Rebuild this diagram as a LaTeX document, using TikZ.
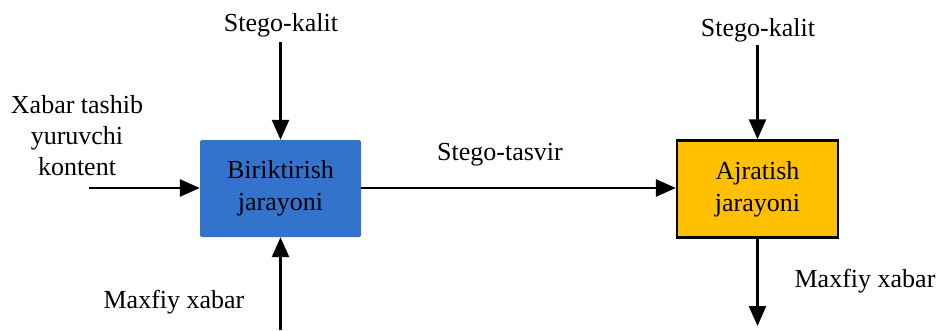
\documentclass[tikz,border=0pt]{standalone}
\usepackage{fontspec}
\setmainfont{Liberation Serif}
\usetikzlibrary{arrows.meta}
\definecolor{bluebox}{HTML}{3473CC}
\definecolor{yellowbox}{HTML}{FFC000}
\begin{document}
\begin{tikzpicture}[x=1pt,y=-1pt,
  lbl/.style={font=\fontsize{26}{31}\selectfont, align=center, inner sep=0pt},
  procbox/.style={minimum width=161pt, minimum height=97pt, inner sep=0pt,
    font=\fontsize{26}{32}\selectfont, align=center},
  conn/.style={line width=2.5pt, -{Triangle[length=20pt,width=17pt]}}]
\useasboundingbox (0,0) rectangle (940,330);
% boxes
\node[procbox, fill=bluebox, rounded corners=1.5pt] (emb) at (280.5,188.5) {Biriktirish\\jarayoni};
\node[procbox, fill=yellowbox, draw=black, line width=2.4pt] (ext) at (757.5,189) {Ajratish\\jarayoni};
% labels
\node[lbl] (key1) at (281,25) {Stego-kalit};
\node[lbl] (key2) at (758,30) {Stego-kalit};
\node[lbl] (cover) at (77,136) {Xabar tashib\\yuruvchi\\kontent};
\node[lbl] (stego) at (500,155) {Stego-tasvir};
\node[lbl] (msg1) at (174,302) {Maxfiy xabar};
\node[lbl] (msg2) at (865,281) {Maxfiy xabar};
% free ends
\coordinate (cin) at (89,188);
\coordinate (k1) at (280.5,42);
\coordinate (k2) at (757.5,45);
\coordinate (m1) at (280.5,330);
\coordinate (m2) at (757.5,326);
% connectors
\draw[conn] (cin) -- (cin -| emb.west);
\draw[conn] (k1) -- (emb.north);
\draw[conn] (m1) -- (emb.south);
\draw[conn] (emb.east |- cin) -- (ext.west |- cin);
\draw[conn] (k2) -- (ext.north);
\draw[conn] (ext.south) -- (m2);
\end{tikzpicture}
\end{document}
